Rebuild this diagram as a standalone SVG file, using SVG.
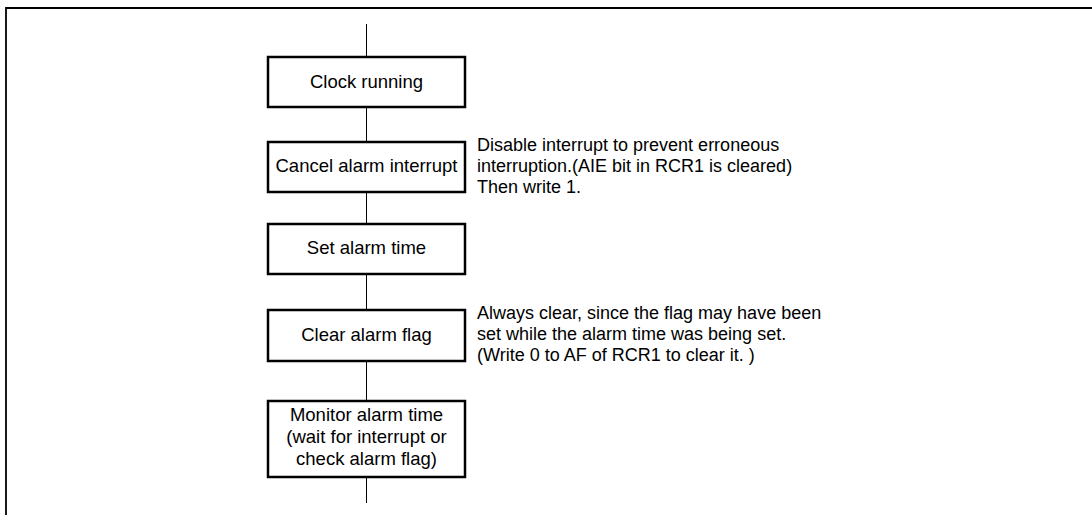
<svg xmlns="http://www.w3.org/2000/svg" width="1092" height="515" viewBox="0 0 1092 515">
<style>
.box{fill:#fff;stroke:#000;stroke-width:2.5}
.conn{stroke:#000;stroke-width:1;fill:none}
.frame{stroke:#000;stroke-width:1.8;fill:none}
text{font-family:"Liberation Sans",Arial,sans-serif;font-size:18px;fill:#000}
.c{text-anchor:middle;font-size:18.5px}
</style>
<rect width="1092" height="515" fill="#fff"/>
<path class="frame" d="M6,515 V8 H1092"/>
<g id="connectors">
<line class="conn" x1="366.5" y1="24" x2="366.5" y2="57"/>
<line class="conn" x1="366.5" y1="107" x2="366.5" y2="142"/>
<line class="conn" x1="366.5" y1="192" x2="366.5" y2="224"/>
<line class="conn" x1="366.5" y1="274" x2="366.5" y2="310"/>
<line class="conn" x1="366.5" y1="361" x2="366.5" y2="401"/>
<line class="conn" x1="366.5" y1="477" x2="366.5" y2="503"/>
</g>
<g id="clock-running">
<rect class="box" x="268" y="57" width="197" height="50"/>
<text class="c" x="366.5" y="88">Clock running</text>
</g>
<g id="cancel-alarm-interrupt">
<rect class="box" x="268" y="142" width="197" height="50"/>
<text class="c" x="366.5" y="172">Cancel alarm interrupt</text>
</g>
<g id="set-alarm-time">
<rect class="box" x="268" y="224" width="197" height="50"/>
<text class="c" x="366.5" y="254">Set alarm time</text>
</g>
<g id="clear-alarm-flag">
<rect class="box" x="268" y="310" width="197" height="51"/>
<text class="c" x="366.5" y="341">Clear alarm flag</text>
</g>
<g id="monitor-alarm-time">
<rect class="box" x="268" y="401" width="197" height="76"/>
<text class="c" x="366.5" y="421">Monitor alarm time</text>
<text class="c" x="366.5" y="443">(wait for interrupt or</text>
<text class="c" x="366.5" y="465">check alarm flag)</text>
</g>
<g id="note-cancel">
<text x="477" y="151">Disable interrupt to prevent erroneous</text>
<text x="477" y="172">interruption.(AIE bit in RCR1 is cleared)</text>
<text x="477" y="193">Then write 1.</text>
</g>
<g id="note-clear">
<text x="477" y="319">Always clear, since the flag may have been</text>
<text x="477" y="340">set while the alarm time was being set.</text>
<text x="477" y="361">(Write 0 to AF of RCR1 to clear it. )</text>
</g>
</svg>
